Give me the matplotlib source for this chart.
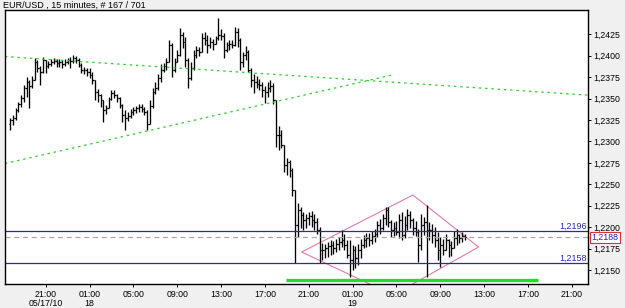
import matplotlib
matplotlib.use("Agg")
import matplotlib.pyplot as plt
from matplotlib.patches import Polygon

plt.rcParams['font.family'] = ['Liberation Sans', 'DejaVu Sans']

# ---- data: EUR/USD 15-minute bars (index 0 = 05/17/10 17:45) ----
high = [1.2327, 1.2331, 1.2339, 1.2346, 1.2354, 1.2366, 1.2375, 1.2372, 1.2376, 1.2397,
        1.2395, 1.2388, 1.2398, 1.2395, 1.2394, 1.2396, 1.2397, 1.2396, 1.2396, 1.2395,
        1.2396, 1.2397, 1.2398, 1.2401, 1.2400, 1.2397, 1.2391, 1.2387, 1.2386, 1.2386,
        1.2381, 1.2372, 1.2361, 1.2355, 1.2348, 1.2342, 1.2352, 1.2360, 1.2360, 1.2355,
        1.2352, 1.2344, 1.2337, 1.2334, 1.2338, 1.2340, 1.2341, 1.2344, 1.2344, 1.2340,
        1.2337, 1.2348, 1.2362, 1.2369, 1.2379, 1.2390, 1.2391, 1.2397, 1.2418, 1.2415,
        1.2397, 1.2407, 1.2432, 1.2428, 1.2422, 1.2397, 1.2393, 1.2407, 1.2411, 1.2410,
        1.2426, 1.2428, 1.2424, 1.2422, 1.2419, 1.2423, 1.2444, 1.2431, 1.2426, 1.2416,
        1.2418, 1.2418, 1.2433, 1.2432, 1.2421, 1.2404, 1.2411, 1.2407, 1.2386, 1.2379,
        1.2376, 1.2373, 1.2369, 1.2365, 1.2369, 1.2372, 1.2368, 1.2348, 1.2318, 1.2313,
        1.2296, 1.2281, 1.2278, 1.2269, 1.2243, 1.2228, 1.2223, 1.2218, 1.2215, 1.2218,
        1.2219, 1.2215, 1.2211, 1.2200, 1.2181, 1.2180, 1.2183, 1.2185, 1.2184, 1.2186,
        1.2188, 1.2197, 1.2192, 1.2185, 1.2185, 1.2179, 1.2178, 1.2180, 1.2186, 1.2191,
        1.2193, 1.2193, 1.2195, 1.2198, 1.2207, 1.2209, 1.2215, 1.2223, 1.2223, 1.2208,
        1.2206, 1.2207, 1.2215, 1.2218, 1.2213, 1.2221, 1.2219, 1.2211, 1.2207, 1.2198,
        1.2215, 1.2212, 1.2226, 1.2206, 1.2204, 1.2200, 1.2194, 1.2188, 1.2186, 1.2192,
        1.2186, 1.2184, 1.2195, 1.2198, 1.2192, 1.2194, 1.2192]
low = [1.2313, 1.2319, 1.2325, 1.2334, 1.2340, 1.2346, 1.2352, 1.2339, 1.2362, 1.2372,
       1.2381, 1.2366, 1.2380, 1.2380, 1.2386, 1.2388, 1.2390, 1.2387, 1.2387, 1.2386,
       1.2388, 1.2390, 1.2386, 1.2391, 1.2391, 1.2387, 1.2380, 1.2379, 1.2376, 1.2374,
       1.2367, 1.2348, 1.2346, 1.2340, 1.2323, 1.2332, 1.2339, 1.2348, 1.2351, 1.2346,
       1.2339, 1.2323, 1.2313, 1.2324, 1.2327, 1.2331, 1.2333, 1.2334, 1.2334, 1.2331,
       1.2313, 1.2320, 1.2339, 1.2355, 1.2360, 1.2369, 1.2381, 1.2383, 1.2393, 1.2375,
       1.2381, 1.2393, 1.2400, 1.2409, 1.2387, 1.2362, 1.2372, 1.2383, 1.2397, 1.2400,
       1.2404, 1.2412, 1.2403, 1.2409, 1.2407, 1.2414, 1.2418, 1.2418, 1.2397, 1.2404,
       1.2407, 1.2409, 1.2411, 1.2410, 1.2383, 1.2387, 1.2395, 1.2381, 1.2363, 1.2356,
       1.2362, 1.2360, 1.2352, 1.2345, 1.2352, 1.2358, 1.2344, 1.2293, 1.2290, 1.2292,
       1.2264, 1.2261, 1.2258, 1.2236, 1.2158, 1.2188, 1.2199, 1.2197, 1.2199, 1.2202,
       1.2200, 1.2197, 1.2192, 1.2158, 1.2162, 1.2164, 1.2165, 1.2167, 1.2169, 1.2171,
       1.2173, 1.2177, 1.2173, 1.2164, 1.2142, 1.2150, 1.2152, 1.2156, 1.2164, 1.2176,
       1.2177, 1.2178, 1.2180, 1.2183, 1.2188, 1.2192, 1.2197, 1.2202, 1.2200, 1.2188,
       1.2190, 1.2191, 1.2187, 1.2185, 1.2187, 1.2197, 1.2199, 1.2191, 1.2190, 1.2159,
       1.2173, 1.2191, 1.2142, 1.2185, 1.2181, 1.2177, 1.2162, 1.2153, 1.2167, 1.2173,
       1.2165, 1.2166, 1.2176, 1.2179, 1.2181, 1.2183, 1.2185]
close = [1.2325, 1.2327, 1.2337, 1.2344, 1.2351, 1.2362, 1.2369, 1.2365, 1.2372, 1.2393,
         1.2386, 1.2381, 1.2395, 1.2388, 1.2390, 1.2393, 1.2394, 1.2391, 1.2393, 1.2390,
         1.2393, 1.2395, 1.2394, 1.2397, 1.2395, 1.2389, 1.2383, 1.2383, 1.2381, 1.2377,
         1.2372, 1.2358, 1.2354, 1.2348, 1.2337, 1.2339, 1.2349, 1.2356, 1.2354, 1.2351,
         1.2342, 1.2331, 1.2327, 1.2330, 1.2334, 1.2337, 1.2339, 1.2340, 1.2338, 1.2334,
         1.2320, 1.2341, 1.2358, 1.2362, 1.2374, 1.2383, 1.2388, 1.2393, 1.2412, 1.2383,
         1.2393, 1.2401, 1.2424, 1.2416, 1.2395, 1.2374, 1.2386, 1.2401, 1.2407, 1.2404,
         1.2421, 1.2418, 1.2412, 1.2416, 1.2414, 1.2421, 1.2424, 1.2423, 1.2407, 1.2412,
         1.2414, 1.2412, 1.2428, 1.2418, 1.2393, 1.2401, 1.2404, 1.2383, 1.2372, 1.2369,
         1.2367, 1.2366, 1.2360, 1.2358, 1.2362, 1.2365, 1.2348, 1.2307, 1.2307, 1.2296,
         1.2272, 1.2276, 1.2267, 1.2243, 1.2202, 1.2220, 1.2214, 1.2208, 1.2211, 1.2213,
         1.2208, 1.2206, 1.2197, 1.2173, 1.2173, 1.2176, 1.2178, 1.2179, 1.2176, 1.2180,
         1.2183, 1.2185, 1.2179, 1.2167, 1.2162, 1.2173, 1.2164, 1.2173, 1.2179, 1.2185,
         1.2187, 1.2185, 1.2190, 1.2192, 1.2202, 1.2199, 1.2211, 1.2220, 1.2206, 1.2197,
         1.2199, 1.2194, 1.2208, 1.2191, 1.2202, 1.2214, 1.2208, 1.2199, 1.2194, 1.2179,
         1.2202, 1.2206, 1.2197, 1.2197, 1.2191, 1.2185, 1.2173, 1.2179, 1.2173, 1.2185,
         1.2179, 1.2176, 1.2187, 1.2191, 1.2187, 1.2190, 1.2188]
first_open = 1.2320
opens = [first_open] + close[:-1]

tick_pos = [13, 29, 45, 61, 77, 93, 109, 125, 141, 157, 173, 189, 205]
tick_labels = ["21:00\n05/17/10", "01:00\n18", "05:00", "09:00", "13:00", "17:00",
               "21:00", "01:00\n19", "05:00", "09:00", "13:00", "17:00", "21:00"]
y_ticks = [1.2150, 1.2175, 1.2200, 1.2225, 1.2250, 1.2275, 1.2300, 1.2325,
           1.2350, 1.2375, 1.2400, 1.2425]

resistance = 1.2196
support = 1.2158
last_price = 1.2188
# trend lines (bar index, price)
trend_down = ([-1.9, 210.9], [1.2399, 1.2354])
trend_up = ([-1.9, 139.4], [1.22742, 1.23775])
diamond = [(106.4, 1.2171), (147.0, 1.22375), (170.95, 1.21768), (139.75, 1.21208)]
green_bar = ([100.7, 192.6], [1.21383, 1.21383])

title = "EUR/USD , 15 minutes, # 167 / 701"

# ---- figure ----
fig = plt.figure(figsize=(6.25, 3.08), dpi=100, facecolor='#f0f0f0')
ax = fig.add_axes([5/625, 24/308, 583/625, 274/308])
ax.set_facecolor('white')

xs = list(range(len(close)))
ax.vlines(xs, low, high, color='black', lw=0.95)
ax.hlines(opens, [x - 0.5 for x in xs], xs, color='black', lw=0.9)
ax.hlines(close, xs, [x + 0.5 for x in xs], color='black', lw=0.9)

navy = '#2a2aa8'
ax.axhline(resistance, color=navy, lw=0.9)
ax.axhline(support, color=navy, lw=0.9)
ax.axhline(last_price, color='#a8a8a8', lw=0.9, dashes=(4, 3))
tr = ax.get_yaxis_transform()
ax.text(0.998, resistance, "1,2196", transform=tr, ha='right', va='bottom',
        color=navy, fontsize=6.5)
ax.text(0.998, support, "1,2158", transform=tr, ha='right', va='bottom',
        color=navy, fontsize=6.5)

ax.plot(trend_down[0], trend_down[1], color='#33cc33', lw=0.9, dashes=(2, 3))
ax.plot(trend_up[0], trend_up[1], color='#33cc33', lw=0.9, dashes=(2, 3))
ax.add_patch(Polygon(diamond, closed=True, fill=False, edgecolor='#e07aaa', lw=0.8))
ax.plot(green_bar[0], green_bar[1], color='#22dd22', lw=2.4, solid_capstyle='butt')

ax.set_xlim(-1.86, 210.9)
ax.set_ylim(1.21337, 1.24533)

ax.yaxis.tick_right()
ax.set_yticks(y_ticks)
ax.set_yticklabels([f"{v:.4f}".replace('.', ',') for v in y_ticks])
ax.set_xticks(tick_pos)
ax.set_xticklabels(tick_labels, linespacing=1.05)
ax.tick_params(axis='both', labelsize=6.3, length=2.5, width=0.7, pad=1.5,
               colors='black')
ax.tick_params(axis='x', pad=1.5)
for s in ax.spines.values():
    s.set_linewidth(1.0)
    s.set_color('black')

ax.text(1.006, last_price, "1,2188", transform=tr, ha='left', va='center',
        color='#2020c0', fontsize=6.3,
        bbox=dict(boxstyle='square,pad=0.15', facecolor='white',
                  edgecolor='#e03030', lw=0.8))

fig.text(3/625, 1 - 5/308, title, ha='left', va='center', fontsize=6.5,
         color='black')

fig.savefig("out.png", dpi=100, facecolor=fig.get_facecolor())
